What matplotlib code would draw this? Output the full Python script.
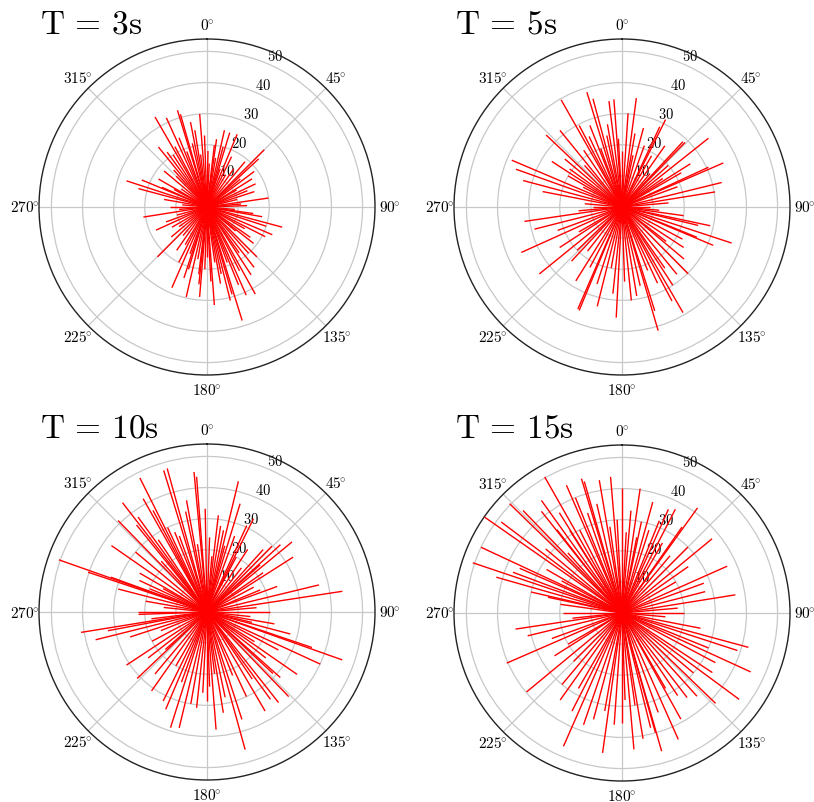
import numpy as np
import matplotlib.pyplot as plt

plt.rcParams['mathtext.fontset'] = 'cm'
plt.rcParams['font.family'] = 'serif'
plt.rcParams['font.serif'] = ['DejaVu Serif']

# ---- data: direction (deg, clockwise from north) and length of each segment ----
ang_3 = [330, 335.5, 343, 344, 349, 355.5, 351, 321, 324, 1, 6.8, 12.8, 17, 22.5, 8,
         45, 47, 58, 64.5, 81.7, 88, 105, 113, 135, 142, 151, 156, 162.8, 164, 166,
         170, 175.7, 180, 184.7, 187, 193, 196.5, 203.5, 224.8, 245.6, 261, 270, 285,
         288, 292.5, 293.6,
         310, 315, 318, 327, 332, 338, 340, 347, 353, 358, 3, 10, 15, 19, 26, 30, 35,
         40, 50, 53, 60, 68, 72, 76, 85, 95, 98, 100, 108, 117, 120, 125, 128, 130,
         138, 145, 147, 153, 158, 160, 168, 172, 177, 182, 186, 190, 198, 200, 207,
         210, 215, 220, 230, 235, 240, 250, 255, 265, 275, 280, 298, 300, 305]
len_3 = [33.4, 31.5, 32.5, 31, 27.8, 30, 25, 24.8, 21.8, 18, 20, 25.3, 25, 25.3, 22,
         26, 22.7, 17.1, 17.3, 20, 12.9, 25, 22.8, 22.7, 24.6, 32, 31, 38.2, 29.2, 31,
         25, 31.6, 16, 29, 21.8, 29.7, 20.9, 28.3, 22.6, 18, 20.7, 12, 22.8,
         27.2, 22.7, 15.8,
         18, 14, 16, 20, 22, 24, 19, 21, 17, 23, 14, 16, 20, 13, 18, 12, 15,
         19, 14, 19, 11, 14, 16, 10, 11, 9, 15, 18, 20, 21, 14, 17, 19, 12,
         20, 18, 26, 23, 27, 19, 22, 18, 24, 20, 25, 17, 24, 16, 20,
         14, 17, 12, 15, 11, 13, 14, 10, 9, 8, 14, 12, 18, 10]

ang_5 = [330.4, 343, 345, 353, 355.7, 7.5, 3.7, 15.2, 25.2, 26.5, 43, 44.3, 51.5, 57.7,
         65.3, 66.5, 76.2, 80.8, 90, 102, 103.6, 108.2, 112, 112.8, 123.3, 135.3,
         140.8, 150, 152, 163.7, 162.5, 170.6, 174.3, 183, 194, 202.5, 203.4, 223,
         231, 237, 245.7, 255.8, 261.6, 270, 281, 285, 289.6, 293, 303, 306, 313.5,
         321, 332.3, 338.5, 348,
         300, 310, 318, 326, 335, 340, 350, 357, 0, 10, 12, 20, 30, 35, 40, 48, 55,
         60, 70, 85, 95, 98, 118, 128, 130, 145, 147, 155, 158, 167, 178, 186, 190,
         198, 208, 212, 218, 226, 240, 250, 265, 275, 297]
len_5 = [39.6, 38.6, 36, 34.3, 34.7, 35.3, 30.2, 26.3, 28.5, 31.4, 28.7, 29, 35.5, 26,
         30.6, 35.5, 33, 30.3, 9, 29, 25.2, 37.1, 26, 31.8, 23.7, 30.2,
         27.9, 39.2, 34.2, 41.4, 35, 29, 30.2, 35.6, 32.9, 36, 35.7, 23.8,
         34.2, 23.9, 35.5, 29, 31.7, 9.4, 26, 32.9, 36.2, 38.5, 26.9, 20.8, 33.6,
         31.7, 29.6, 28.2, 23.5,
         20, 24, 18, 22, 25, 20, 27, 22, 18, 24, 17, 21, 19, 24, 14, 20, 16,
         22, 19, 15, 12, 20, 22, 18, 26, 24, 30, 27, 22, 26, 24, 28, 20,
         26, 22, 28, 18, 20, 16, 22, 14, 12, 14]

ang_10 = [289.4, 288.5, 304.8, 315.8, 322.3, 333.4, 343, 344.5, 354.7, 355.6, 349.6,
          330.6, 324, 321, 332, 338, 359, 6.7, 13.5, 17, 26.5, 24.7, 11.4, 44.6, 47.5,
          50.5, 57.5, 48.4, 76.4, 81.3, 67.5, 284.5, 289.9, 292, 270,
          260.8, 256, 259.3, 236.6, 226.4, 215.1, 206.2, 197.5, 193.5, 186.2, 180,
          175.6, 170.8, 164.5, 162, 149.6, 141.7, 136, 144, 124.7, 114.7, 109.5,
          108.7, 104.8, 90, 103, 131.8, 268,
          300, 310, 318, 326, 335, 340, 348, 352, 2, 5, 9, 15, 20, 28, 33, 38, 42, 55,
          62, 70, 85, 96, 100, 118, 122, 128, 133, 146, 155, 158, 168, 173, 178, 183,
          190, 200, 203, 210, 220, 228, 232, 242, 248, 252, 263, 276, 280, 295, 298]
len_10 = [50.5, 40.3, 37.4, 41, 44.4, 48.2, 47.6, 47.9, 45.2, 43.6, 36.5,
          41.8, 37.7, 36, 37, 27.7, 33.2, 31.3, 43.2, 36.4, 33.5, 30.6, 26.8, 29.7, 32,
          35.4, 32.8, 22.8, 37, 44, 18.5, 29.5, 32.9, 19.8, 22.2,
          41, 36.9, 32.4, 31, 31, 31, 31.9, 39, 38.3, 31, 28.6,
          37.9, 32.8, 45.9, 36.3, 36.9, 37.1, 37.8, 34.7, 35.2, 40.1, 46.1,
          35.6, 27.7, 20.3, 14.8, 31.6, 22,
          25, 30, 22, 28, 30, 26, 33, 22, 24, 18, 28, 22, 26, 20, 24, 18, 27, 22,
          17, 24, 16, 14, 22, 26, 18, 24, 29, 26, 30, 22, 28, 20, 24, 26,
          30, 24, 34, 20, 26, 18, 24, 20, 16, 26, 18, 14, 20, 24, 16]

ang_15 = [288.6, 295, 304.9, 307, 314.2, 285.9, 290.5, 293.6, 330.4, 336.5, 343.2, 344,
          350.3, 355.2, 0, 8.3, 15.5, 24.1, 27.2, 35.7, 34.9, 50.5, 66, 80.9, 75.6,
          90, 324.4, 321.6, 316, 282, 270, 327.7, 11,
          261.4, 256.4, 246.5, 230.4, 237.6, 215.4, 207, 203.7, 195, 187.9, 180, 175,
          170.5, 164, 164.4, 156, 151, 142.4, 134, 126.4, 123.4, 114.6, 105.2, 108,
          101,
          300, 310, 318, 322, 328, 333, 338, 341, 347, 352, 357, 3, 5, 12, 18, 22, 30,
          40, 45, 55, 60, 70, 85, 95, 112, 118, 130, 138, 146, 150, 160, 166, 172, 178,
          184, 190, 199, 210, 220, 225, 240, 250, 264, 278, 283, 298]
len_15 = [50.6, 50, 53.9, 48.6, 50.4, 42, 37.4, 35.9, 50.3, 44.8, 45.1, 44,
          43.3, 43.9, 40.2, 40.4, 37, 36.5, 37.5, 41.6, 33.7, 37.5, 37, 36.9, 27.6,
          19.8, 44.5, 41.7, 45.8, 24.3, 19, 31.4, 24.8,
          34.6, 31.2, 40.4, 39.8, 25.7, 34.3, 35.4, 46.8, 35.4, 45.4, 35.3, 44,
          41, 46.2, 40, 44.5, 39, 34.3, 41.8, 46.8, 34.8, 45.5, 42.1, 39,
          25.7,
          28, 32, 26, 34, 38, 30, 40, 34, 36, 28, 30, 26, 33, 30, 28, 32, 26,
          24, 30, 26, 20, 28, 18, 14, 30, 34, 30, 36, 32, 28, 34, 38, 30, 28,
          36, 32, 38, 28, 30, 22, 20, 24, 16, 20, 30, 22]

titles = ['T = 3s', 'T = 5s', 'T = 10s', 'T = 15s']
angles = [ang_3, ang_5, ang_10, ang_15]
lengths = [len_3, len_5, len_10, len_15]

r_max = 54
r_ticks = [10, 20, 30, 40, 50]
theta_ticks = [0, 45, 90, 135, 180, 225, 270, 315]

fig = plt.figure(figsize=(8.14, 8.03), dpi=100)

W, H = 814, 803
centers = [(207, 208), (622, 208), (207, 613), (622, 614)]
rad_px = 168

for i in range(4):
    cx, cy = centers[i]
    ax = fig.add_axes([(cx - rad_px) / W, (H - cy - rad_px) / H,
                       2 * rad_px / W, 2 * rad_px / H], projection='polar')
    ax.set_theta_zero_location('N')
    ax.set_theta_direction(-1)

    th = np.deg2rad(angles[i])
    ax.vlines(th, 0, lengths[i], colors='#ff0000', lw=1.0, zorder=3)

    ax.set_ylim(0, r_max)
    ax.set_rticks(r_ticks)
    ax.set_yticklabels(['$%d$' % t for t in r_ticks], fontsize=10.5)
    ax.set_rlabel_position(22.5)
    ax.set_thetagrids(theta_ticks,
                      labels=[r'$%d^{\!\!\circ}$' % t for t in theta_ticks],
                      fontsize=11)
    ax.tick_params(axis='x', pad=0)
    ax.grid(True, color='#c8c8c8', lw=0.9)
    ax.spines['polar'].set_color('#222222')
    ax.spines['polar'].set_linewidth(1.0)

    tx = [40, 455, 40, 455][i]
    ty = [33, 33, 438, 438][i]
    t = titles[i].replace('T', r'\mathrm{T}').replace('s', r'\mathrm{s}')
    t = t.replace(' = ', r'\,=\,')
    fig.text(tx / W, 1 - ty / H, '$' + t + '$', fontsize=24, ha='left', va='baseline')

fig.savefig('out.png', dpi=100)
